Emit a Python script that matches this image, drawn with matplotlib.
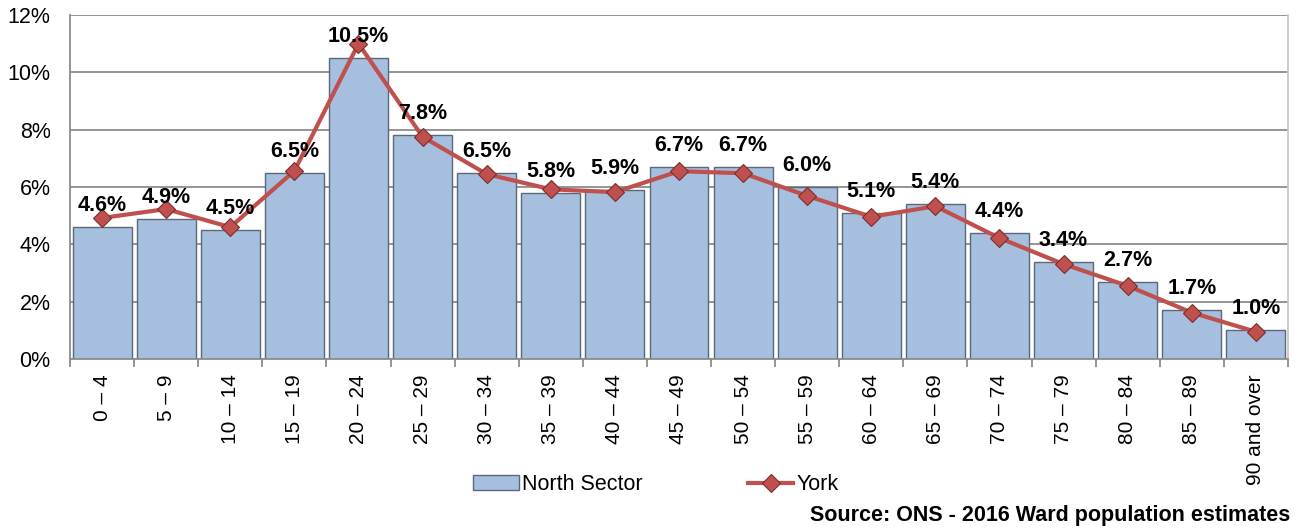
import matplotlib
matplotlib.use("Agg")
import matplotlib.pyplot as plt
from matplotlib.ticker import FuncFormatter, FixedLocator
import numpy as np

plt.rcParams['font.family'] = ['Liberation Sans', 'DejaVu Sans']

categories = ["0 – 4", "5 – 9", "10 – 14", "15 – 19", "20 – 24", "25 – 29", "30 – 34",
              "35 – 39", "40 – 44", "45 – 49", "50 – 54", "55 – 59", "60 – 64", "65 – 69",
              "70 – 74", "75 – 79", "80 – 84", "85 – 89", "90 and over"]
north_sector = [4.6, 4.9, 4.5, 6.5, 10.5, 7.8, 6.5, 5.8, 5.9, 6.7, 6.7, 6.0, 5.1, 5.4,
                4.4, 3.4, 2.7, 1.7, 1.0]
york = [4.92, 5.23, 4.6, 6.56, 11.0, 7.75, 6.45, 5.92, 5.82, 6.55, 6.48, 5.69, 4.96, 5.33,
        4.22, 3.31, 2.55, 1.62, 0.95]

fig = plt.figure(figsize=(12.99, 5.31), dpi=100)
ax = fig.add_axes([0.0539, 0.3239, 0.9915 - 0.0539, 0.9718 - 0.3239])

x = np.arange(len(categories))
grid_c = '#8c8c8c'
ax.set_axisbelow(True)
ax.yaxis.grid(True, color=grid_c, linewidth=1.3)
ax.bar(x, north_sector, width=0.92, color='#a7bfde', edgecolor='#5b6878',
       linewidth=1.0, label='North Sector', zorder=2)
ax.plot(x, york, color='#c0504d', linewidth=3, marker='D', markersize=9,
        markerfacecolor='#c0504d', markeredgecolor='#7a2e2c', markeredgewidth=0.8,
        label='York', zorder=3)

for xi, v in zip(x, north_sector):
    ax.annotate(f"{v:.1f}%", (xi, v), xytext=(0, 15.5), textcoords='offset points',
                ha='center', va='center', fontsize=15.5, fontweight='bold', zorder=4)

ax.set_xlim(-0.5, len(categories) - 0.5)
ax.set_ylim(0, 12)
ax.set_yticks(np.arange(0, 13, 2))
ax.yaxis.set_major_formatter(FuncFormatter(lambda v, p: f"{v:.0f}%"))
ax.tick_params(axis='y', length=0, labelsize=15.5, pad=14)

ax.set_xticks(x)
ax.set_xticklabels(categories, rotation=90, fontsize=15)
ax.tick_params(axis='x', which='major', length=0, pad=11)
ax.xaxis.set_minor_locator(FixedLocator(np.arange(-0.5, len(categories), 1.0)))
ax.tick_params(axis='x', which='minor', length=6, color=grid_c, width=1.3)

ax.spines['top'].set_visible(False)
ax.spines['left'].set_color(grid_c)
ax.spines['left'].set_linewidth(1.3)
ax.spines['bottom'].set_color(grid_c)
ax.spines['bottom'].set_linewidth(1.3)
ax.spines['right'].set_color('#c8c8c8')
ax.spines['right'].set_linewidth(1.3)

handles, labels = ax.get_legend_handles_labels()
order = [labels.index('North Sector'), labels.index('York')]
fig.legend([handles[i] for i in order], [labels[i] for i in order],
           loc='center', bbox_to_anchor=(0.505, 0.087), ncol=2, frameon=False,
           fontsize=15.5, columnspacing=4.9, handlelength=2.1, handletextpad=0.15)

fig.text(0.993, 0.03, "Source: ONS - 2016 Ward population estimates", ha='right',
         va='center', fontsize=15.5, fontweight='bold')

fig.savefig("out.png", dpi=100)
